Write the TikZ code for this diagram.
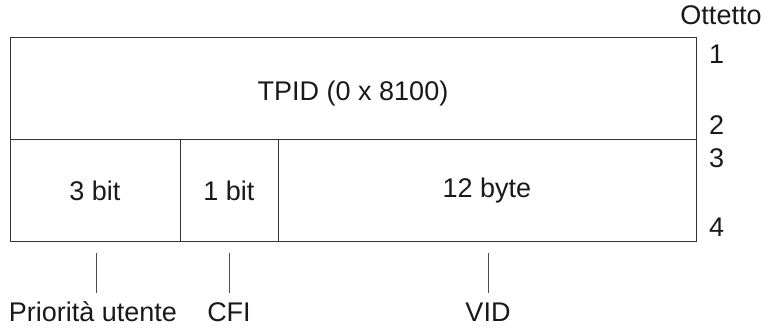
\documentclass[tikz,border=0pt]{standalone}
\usepackage{fontspec}
\setmainfont{Liberation Sans}
\begin{document}
\begin{tikzpicture}[x=1pt,y=-1pt,
  field/.style={draw=black!80,line width=0.9pt,minimum height=102pt,inner sep=0pt,anchor=north west},
  lbl/.style={font=\fontsize{27}{31}\selectfont,text=black!90,inner sep=0pt},
  tick/.style={draw=black!70,line width=0.8pt}]
\useasboundingbox (0,0) rectangle (764,328);
\node[field,minimum width=686pt] (tpid) at (10,37) {};
\node[field,minimum width=170pt] (prio) at (10,139) {};
\node[field,minimum width=98pt] (cfi) at (180,139) {};
\node[field,minimum width=418pt] (vid) at (278,139) {};
\node[lbl] (tpidt) at (353,94) {TPID (0 x 8100)};
\node[lbl] (priot) at (95,191) {3 bit};
\node[lbl] (cfit) at (229,191) {1 bit};
\node[lbl] (vidt) at (487,191) {12 byte};
\node[lbl] (ott) at (721,15) {Ottetto};
\node[lbl,anchor=west] (n1) at (709,54) {1};
\node[lbl,anchor=west] (n2) at (709,125) {2};
\node[lbl,anchor=west] (n3) at (709,158) {3};
\node[lbl,anchor=west] (n4) at (709,227) {4};
\node[lbl] (lprio) at (93,312) {Priorità utente};
\node[lbl] (lcfi) at (229,312) {CFI};
\node[lbl] (lvid) at (488,312) {VID};
\coordinate (tp) at (96,253);
\coordinate (tc) at (229,253);
\coordinate (tv) at (488,253);
\draw[tick] (tp) -- (tp |- 0,293);
\draw[tick] (tc) -- (tc |- 0,293);
\draw[tick] (tv) -- (tv |- 0,293);
\end{tikzpicture}
\end{document}
